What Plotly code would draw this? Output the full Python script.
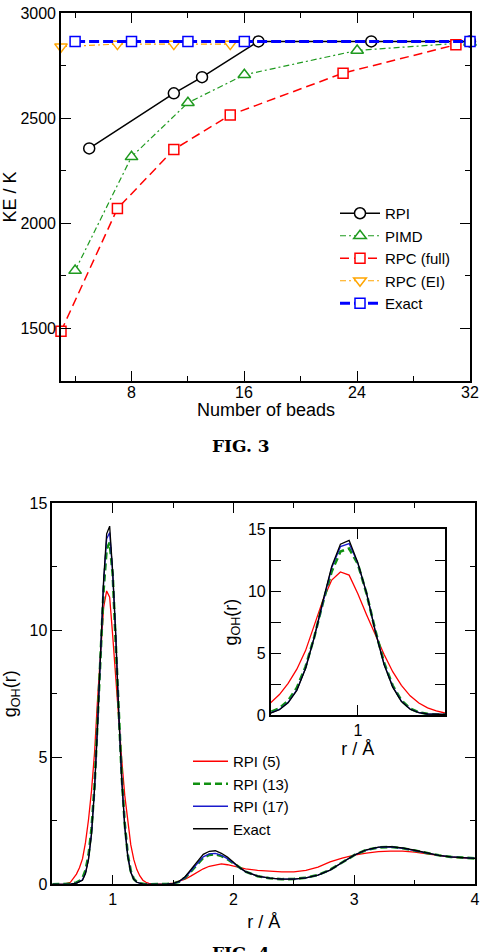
import plotly.graph_objects as go

W, H = 484, 952

# ---------------- FIG. 3 data ----------------
rpi_n = [5, 11, 13, 17, 25, 32]
rpi_ke = [2356, 2618, 2695, 2865, 2865, 2865]
pimd_n = [4, 8, 12, 16, 24, 32]
pimd_ke = [1775, 2316, 2573, 2706, 2822, 2860]
rpcfull_n = [3, 7, 11, 15, 23, 31]
rpcfull_ke = [1486, 2070, 2351, 2515, 2714, 2849]
rpcei_n = [3, 7, 11, 15]
rpcei_ke = [2840, 2852, 2852, 2852]
exact_n = [4, 8, 12, 16, 32]
exact_ke = [2865, 2865, 2865, 2865, 2865]

beads_ticks = [8, 16, 24, 32]
beads_minor = [4, 12, 20, 28]
ke_ticks = [1500, 2000, 2500, 3000]
ke_minor = [1250, 1750, 2250, 2750]

# ---------------- FIG. 4 data ----------------
r = [0.5, 0.55, 0.6, 0.65,
     0.7, 0.725, 0.75, 0.775, 0.8, 0.825, 0.85, 0.875, 0.9, 0.925, 0.95, 0.975,
     1.0, 1.025, 1.05, 1.075, 1.1, 1.125, 1.15, 1.175, 1.2, 1.225, 1.25, 1.275, 1.3,
     1.35, 1.4, 1.45, 1.5, 1.55, 1.6, 1.65, 1.7, 1.75, 1.8, 1.85, 1.9, 1.95, 2.0, 2.05, 2.1,
     2.2, 2.3, 2.4, 2.5, 2.6, 2.7, 2.8, 2.9, 3.0, 3.1, 3.2, 3.3, 3.4, 3.5, 3.6, 3.7, 3.8, 3.9, 4.0]

g_rpi5 = [0, 0, 0.01, 0.08,
          0.4, 0.65, 1.0, 1.65, 2.55, 3.7, 5.2, 7.3, 9.3, 10.9, 11.55, 11.3,
          9.8, 8.1, 6.5, 4.9, 3.5, 2.4, 1.55, 0.97, 0.58, 0.33, 0.16, 0.08, 0.04,
          0.01, 0.01, 0.02, 0.05, 0.11, 0.2, 0.33, 0.47, 0.61, 0.71, 0.77, 0.8, 0.77, 0.72, 0.66, 0.61,
          0.55, 0.51, 0.49, 0.49, 0.55, 0.68, 0.88, 1.03, 1.15, 1.23, 1.29, 1.31, 1.31, 1.27, 1.2, 1.13, 1.07, 1.04, 1.02]

g_rpi13 = [0, 0, 0, 0.02,
           0.07, 0.13, 0.24, 0.55, 1.15, 2.2, 3.9, 6.3, 9.1, 11.6, 13.2, 13.45,
           12.2, 9.8, 6.85, 4.25, 2.38, 1.17, 0.52, 0.21, 0.09, 0.04, 0.01, 0, 0,
           0, 0, 0.01, 0.03, 0.1, 0.26, 0.52, 0.81, 1.04, 1.16, 1.18, 1.11, 0.99, 0.83, 0.65, 0.5,
           0.32, 0.24, 0.2, 0.21, 0.26, 0.37, 0.57, 0.87, 1.15, 1.35, 1.45, 1.47, 1.42, 1.33, 1.23, 1.14, 1.08, 1.04, 1.02]

g_rpi17 = [0, 0, 0, 0.01,
           0.05, 0.1, 0.18, 0.45, 1.02, 2.03, 3.8, 6.28, 9.2, 11.9, 13.6, 13.85,
           12.25, 9.85, 6.8, 4.15, 2.3, 1.12, 0.48, 0.2, 0.08, 0.03, 0.01, 0, 0,
           0, 0, 0.01, 0.03, 0.1, 0.27, 0.54, 0.84, 1.08, 1.2, 1.22, 1.14, 1.01, 0.84, 0.65, 0.5,
           0.32, 0.24, 0.2, 0.2, 0.25, 0.36, 0.56, 0.86, 1.15, 1.35, 1.45, 1.47, 1.42, 1.33, 1.23, 1.14, 1.08, 1.04, 1.02]

g_exact = [0, 0, 0, 0.01,
           0.05, 0.09, 0.16, 0.42, 0.98, 1.99, 3.76, 6.27, 9.24, 12.0, 13.8, 14.1,
           12.3, 9.84, 6.75, 4.1, 2.25, 1.09, 0.46, 0.19, 0.08, 0.03, 0.01, 0, 0,
           0, 0, 0.01, 0.03, 0.12, 0.3, 0.6, 0.92, 1.18, 1.3, 1.32, 1.22, 1.07, 0.87, 0.66, 0.5,
           0.32, 0.24, 0.2, 0.2, 0.25, 0.36, 0.56, 0.86, 1.15, 1.36, 1.46, 1.48, 1.43, 1.34, 1.23, 1.14, 1.08, 1.04, 1.02]

r_ticks = [1, 2, 3, 4]
r_minor = [0.5, 1.5, 2.5, 3.5]
g_ticks = [0, 5, 10, 15]
g_minor = [2.5, 7.5, 12.5]
inset_r_ticks = [1]

fig = go.Figure()

GREEN = "#1f9a1f"
ORANGE = "#ffa500"
RED = "#ff0000"
BLUE = "#0000ff"

# ---------- top panel ----------
top = [
    ("RPI", rpi_n, rpi_ke, "black", "solid", 1.5, "circle", 11),
    ("PIMD", pimd_n, pimd_ke, GREEN, "6px,3px,2px,3px", 1.2, "triangle-up", 11),
    ("RPC (full)", rpcfull_n, rpcfull_ke, RED, "9px,5px", 1.5, "square", 10),
    ("RPC (EI)", rpcei_n, rpcei_ke, ORANGE, "6px,3px,2px,3px", 1.2, "triangle-down", 11),
    ("Exact", exact_n, exact_ke, BLUE, "10px,4px", 3, "square", 10),
]
for name, xs, ys, col, dash, lw, sym, ms in top:
    fig.add_trace(go.Scatter(
        x=xs, y=ys, name=name, mode="lines+markers", xaxis="x", yaxis="y",
        line=dict(color=col, dash=dash, width=lw),
        marker=dict(symbol=sym, size=ms, color="white", line=dict(color=col, width=1.5)),
        cliponaxis=False, legend="legend",
    ))

# ---------- bottom panel ----------
bot = [
    ("RPI (5)", g_rpi5, "#ff0000", "solid", 1.3),
    ("RPI (13)", g_rpi13, "#109010", "7px,4px", 2.6),
    ("RPI (17)", g_rpi17, "#1a1acc", "solid", 1.3),
    ("Exact", g_exact, "black", "solid", 1.3),
]
for name, ys, col, dash, lw in bot:
    fig.add_trace(go.Scatter(
        x=r, y=ys, name=name, mode="lines", xaxis="x2", yaxis="y2",
        line=dict(color=col, dash=dash, width=lw), legend="legend2",
    ))
    fig.add_trace(go.Scatter(
        x=r, y=ys, name=name, mode="lines", xaxis="x3", yaxis="y3",
        line=dict(color=col, dash=dash, width=lw), showlegend=False,
    ))

FONT = "Liberation Sans, Arial, sans-serif"


def ax(domain, rng, tv, mtv, anchor, title, tl=10, mtl=5, standoff=4, labels=True):
    d = dict(
        domain=domain, range=rng, anchor=anchor,
        tickmode="array", tickvals=tv, showticklabels=labels,
        showline=True, linecolor="black", linewidth=1.6, mirror="allticks",
        ticks="inside", ticklen=tl, tickwidth=1.4, tickcolor="black",
        showgrid=False, zeroline=False,
        tickfont=dict(family=FONT, size=16, color="black"),
        title=dict(text=title, font=dict(family=FONT, size=18, color="black"), standoff=standoff),
        automargin=False,
    )
    if mtv:
        d["minor"] = dict(tickmode="array", tickvals=mtv, ticks="inside", ticklen=mtl,
                          tickwidth=1.4, tickcolor="black", showgrid=False)
    return d


def px_x(p):
    return p / W


def px_y(p):
    return 1 - p / H


annotations = [
    dict(text="Number of beads", x=px_x(265.5), y=px_y(410), xref="paper", yref="paper",
         showarrow=False, font=dict(family=FONT, size=18, color="black")),
    dict(text="<b>FIG. 3</b>", x=px_x(241), y=px_y(446), xref="paper", yref="paper",
         showarrow=False, font=dict(family="DejaVu Serif", size=17, color="black")),
    dict(text="<b>FIG. 4</b>", x=px_x(241), y=px_y(965), xref="paper", yref="paper",
         showarrow=False, font=dict(family="DejaVu Serif", size=17, color="black")),
]
# tick labels of the top x axis, placed through the axis' own data scale
for v in beads_ticks:
    annotations.append(dict(text=str(v), x=v, xref="x", y=px_y(392.5), yref="paper",
                            showarrow=False, font=dict(family=FONT, size=16, color="black")))

fig.update_layout(
    width=W, height=H,
    margin=dict(l=0, r=0, t=0, b=0),
    paper_bgcolor="white", plot_bgcolor="white",
    xaxis=ax([px_x(61), px_x(470)], [3, 32], beads_ticks, beads_minor, "y", "", labels=False),
    yaxis=ax([px_y(381), px_y(13)], [1250, 3000], ke_ticks, ke_minor, "x", "KE / K", standoff=6),
    xaxis2=ax([px_x(52.3), px_x(475)], [0.5, 4], r_ticks, r_minor, "y2", "r / Å", standoff=8),
    yaxis2=ax([px_y(884.3), px_y(503.3)], [0, 15], g_ticks, g_minor, "x2", "g<sub>OH</sub>(r)", standoff=8),
    xaxis3=ax([px_x(270.7), px_x(445)], [0.75, 1.25], inset_r_ticks, None, "y3", "r / Å", standoff=4),
    yaxis3=ax([px_y(715), px_y(529.3)], [0, 15], g_ticks, g_minor, "x3", "g<sub>OH</sub>(r)", mtl=10, standoff=6),
    legend=dict(x=px_x(335), y=px_y(197), xanchor="left", yanchor="top",
                font=dict(family=FONT, size=15, color="black"), bgcolor="rgba(0,0,0,0)",
                tracegroupgap=0, itemwidth=40),
    legend2=dict(x=px_x(188), y=px_y(745), xanchor="left", yanchor="top",
                 font=dict(family=FONT, size=15, color="black"), bgcolor="rgba(0,0,0,0)",
                 tracegroupgap=0, itemwidth=35),
    showlegend=True,
    annotations=annotations,
)

fig.write_html("out.html")
